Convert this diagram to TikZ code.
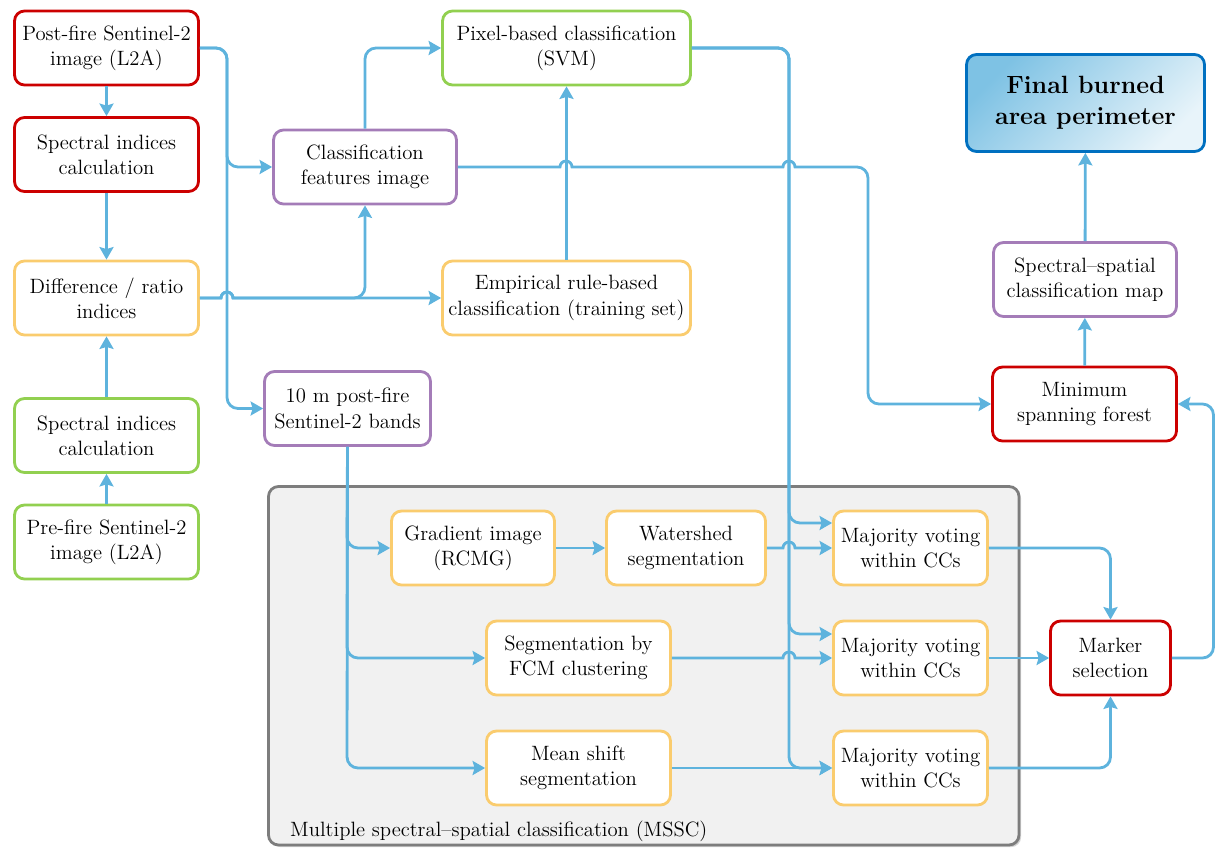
\documentclass[tikz,border=0pt]{standalone}
\usetikzlibrary{arrows.meta,calc,shadows}
\definecolor{cblue}{RGB}{94,179,221}
\definecolor{cred}{RGB}{204,0,0}
\definecolor{cgreen}{RGB}{146,208,80}
\definecolor{cyel}{RGB}{250,204,110}
\definecolor{cpurp}{RGB}{164,124,184}
\definecolor{cfinal}{RGB}{0,112,192}
\definecolor{fdark}{RGB}{126,194,228}
\definecolor{flight}{RGB}{232,244,250}
\definecolor{mfill}{RGB}{241,241,241}
\definecolor{mdraw}{RGB}{125,125,125}
\begin{document}
\begin{tikzpicture}[x=0.02cm,y=-0.02cm,
  box/.style={draw=#1, line width=1.6pt, rounded corners=0.2cm, fill=white, align=center,
    inner sep=0pt, minimum height=1.48cm, font=\fontsize{11.8}{14.4}\selectfont},
  conn/.style={draw=cblue, line width=1.6pt, rounded corners=0.22cm,
    -{Stealth[length=0.25cm,width=0.28cm,inset=0.04cm]}},
  rc/.style={rounded corners=0.22cm}]
\useasboundingbox (0,0) rectangle (1217,848);
% MSSC group
\draw[draw=mdraw, fill=mfill, line width=1.6pt, rounded corners=0.2cm,
  drop shadow={opacity=0.35, shadow xshift=1.2pt, shadow yshift=-1.2pt}]
  (268.5,486.5) rectangle (1019,845);
\node[anchor=base west, font=\fontsize{11.8}{14.4}\selectfont] (mssclabel) at (284,836)
  {Multiple spectral--spatial classification (MSSC)};
% nodes
\node[box=cred, minimum width=3.68cm] (post) at (106.5,48) {Post-fire Sentinel-2\\image (L2A)};
\node[box=cred, minimum width=3.68cm] (spr) at (106.5,154.5) {Spectral indices\\calculation};
\node[box=cyel, minimum width=3.68cm] (diff) at (106.5,298) {Difference / ratio\\indices};
\node[box=cgreen, minimum width=3.68cm] (spg) at (106.5,435.5) {Spectral indices\\calculation};
\node[box=cgreen, minimum width=3.68cm] (pre) at (106.5,542) {Pre-fire Sentinel-2\\image (L2A)};
\node[box=cpurp, minimum width=3.66cm] (cfi) at (365,167) {Classification\\features image};
\node[box=cgreen, minimum width=4.96cm] (pix) at (566.5,48) {Pixel-based classification\\(SVM)};
\node[box=cyel, minimum width=4.96cm] (emp) at (566.5,298) {Empirical rule-based\\classification (training set)};
\node[box=cpurp, minimum width=3.32cm] (tenm) at (347.5,408.5) {10 m post-fire\\Sentinel-2 bands};
\node[draw=cfinal, line width=1.6pt, rounded corners=0.2cm, align=center, inner sep=0pt,
  minimum width=4.76cm, minimum height=1.94cm, top color=fdark, bottom color=flight,
  shading angle=45, font=\fontsize{14.2}{17.6}\selectfont\bfseries] (final) at (1085.5,103)
  {Final burned\\area perimeter};
\node[box=cpurp, minimum width=3.66cm] (ssmap) at (1085,279.5) {Spectral--spatial\\classification map};
\node[box=cred, minimum width=3.68cm] (msf) at (1084.5,404) {Minimum\\spanning forest};
\node[box=cyel, minimum width=3.26cm] (grad) at (473,548) {Gradient image\\(RCMG)};
\node[box=cyel, minimum width=3.18cm] (water) at (686,548) {Watershed\\segmentation};
\node[box=cyel, minimum width=3.68cm] (fcm) at (578.5,658) {Segmentation by\\FCM clustering};
\node[box=cyel, minimum width=3.68cm] (mean) at (578.5,768) {Mean shift\\segmentation};
\node[box=cyel, minimum width=3.08cm] (maj1) at (910.5,548) {Majority voting\\within CCs};
\node[box=cyel, minimum width=3.08cm] (maj2) at (910.5,658) {Majority voting\\within CCs};
\node[box=cyel, minimum width=3.08cm] (maj3) at (910.5,768) {Majority voting\\within CCs};
\node[box=cred, minimum width=2.40cm] (marker) at (1110.5,658) {Marker\\selection};
% left column
\draw[conn] (post) -- (spr);
\draw[conn] (spr) -- (diff);
\draw[conn] (spg) -- (diff);
\draw[conn] (pre) -- (spg);
% post-fire fan-out
\draw[conn] (post.east) -- (227,48) -- (227,167) -- (cfi.west);
\draw[conn] (post.east) -- (227,48) -- (227,408.5) -- (tenm.west);
% difference line with hop
\draw[conn,sharp corners] (diff.east) -- (221,298) arc[start angle=180,end angle=0,radius=0.12cm] -- (emp.west);
\draw[conn,sharp corners] (diff.east) -- (221,298) arc[start angle=180,end angle=0,radius=0.12cm]
  -- (300,298) [rc] -- (365,298) -- (cfi.south);
% features to SVM
\draw[conn] (cfi.north) |- (pix.west);
\draw[conn] (emp) -- (pix);
% features to MSF with hops
\draw[conn,sharp corners] (cfi.east) -- (560,167) arc[start angle=180,end angle=0,radius=0.12cm]
  -- (783,167) arc[start angle=180,end angle=0,radius=0.12cm] -- (820,167) [rc] -- (868,167) -- (868,404) -- (msf.west);
% SVM down to majority voting
\draw[conn] (pix.east) -- (789,48) -- (789,523) -- ($(maj1.west)+(0,-25)$);
\draw[conn] (pix.east) -- (789,48) -- (789,634) -- ($(maj2.west)+(0,-24)$);
\draw[conn] (pix.east) -- (789,48) -- (789,768) -- (maj3.west);
% 10 m bands to segmentations
\draw[conn] (tenm.south) -- (347,548) -- (grad.west);
\draw[conn] (tenm.south) -- (347,658) -- (fcm.west);
\draw[conn] (tenm.south) -- (347,768) -- (mean.west);
\draw[conn] (grad) -- (water);
\draw[conn,sharp corners] (water.east) -- (783,548) arc[start angle=180,end angle=0,radius=0.12cm] -- (maj1.west);
\draw[conn,sharp corners] (fcm.east) -- (783,658) arc[start angle=180,end angle=0,radius=0.12cm] -- (maj2.west);
\draw[conn] (mean) -- (maj3);
% to marker
\draw[conn] (maj1.east) -| (marker.north);
\draw[conn] (maj2) -- (marker);
\draw[conn] (maj3.east) -| (marker.south);
\draw[conn] (marker.east) -- (1213.5,658) -- (1213.5,404) -- (msf.east);
\draw[conn] (msf) -- (ssmap);
\draw[conn] (ssmap) -- (final);
\end{tikzpicture}
\end{document}
